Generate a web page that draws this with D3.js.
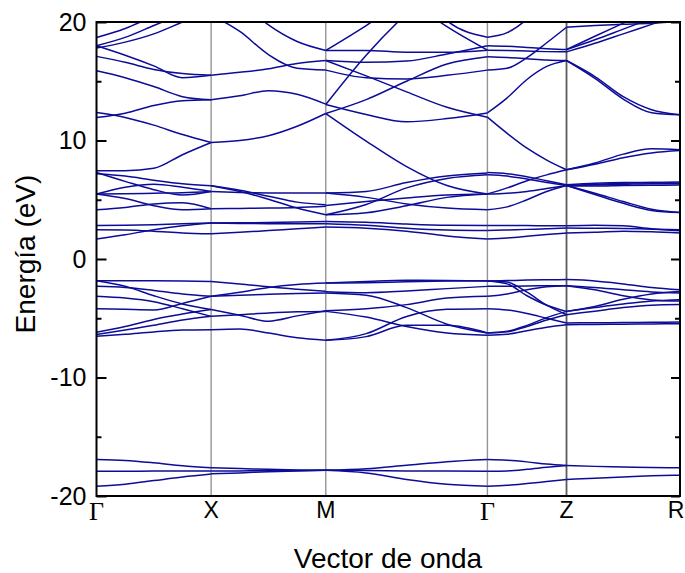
<!DOCTYPE html>
<html>
<head>
<meta charset="utf-8">
<script src="https://cdn.jsdelivr.net/npm/d3@7"></script>
<style>
  html, body { margin: 0; padding: 0; background: #fff; }
  svg { display: block; }
  text { font-family: "Liberation Sans", Arial, Helvetica, sans-serif; fill: #000; }
</style>
</head>
<body>
<svg id="chart" width="685" height="573"></svg>
<script>
// ---------------- DATA ----------------
const kLabels = ["Γ", "X", "M", "Γ", "Z", "R"];
const kNodes  = [0, 1, 2, 3.41, 4.1, 5.09];          // path distance of high-symmetry points
const segT    = [0, 0.25, 0.5, 0.75, 1];              // fractional sample positions along each segment
const yMajorTicks = [-20, -10, 0, 10, 20];
const yMinorTicks = [-15, -5, 5, 15];
const xTitle = "Vector de onda";
const yTitle = "Energía (eV)";

// energies (eV) sampled at segT along Γ–X
const segGX = [
  [18.69, 19.45, 20.5, 21.5, 22.5],
  [18.0, 18.7, 19.7, 20.7, 21.7],
  [17.8, 18.3, 19.0, 20.0, 21.0],
  [18.0, 17.2, 16.3, 15.3, 15.5],
  [17.1, 16.6, 16.0, 15.65, 15.5],
  [15.88, 15.3, 14.55, 13.7, 13.43],
  [12.36, 11.95, 11.3, 10.5, 9.83],
  [11.94, 12.3, 12.95, 13.35, 13.43],
  [7.45, 7.45, 7.65, 8.8, 9.83],
  [7.19, 7.0, 6.65, 6.35, 6.18],
  [7.3, 6.55, 5.85, 5.4, 5.7],
  [5.48, 6.05, 6.3, 6.05, 5.7],
  [5.48, 5.5, 5.55, 5.6, 5.7],
  [5.48, 5.1, 4.5, 4.15, 4.24],
  [4.16, 4.35, 4.65, 4.75, 4.24],
  [2.83, 2.85, 2.9, 2.98, 3.03],
  [2.47, 2.45, 2.35, 2.2, 2.13],
  [1.69, 2.05, 2.47, 2.8, 3.03],
  [-1.83, -1.83, -1.84, -1.86, -1.89],
  [-1.83, -2.3, -3.1, -3.8, -4.27],
  [-2.31, -2.4, -2.65, -2.95, -3.15],
  [-3.15, -3.3, -3.6, -4.2, -4.84],
  [-4.19, -4.25, -4.3, -3.75, -3.15],
  [-6.19, -5.7, -5.1, -4.65, -4.27],
  [-6.38, -6.0, -5.6, -5.15, -4.84],
  [-6.52, -6.35, -6.15, -6.0, -5.96],
  [-16.92, -17.0, -17.2, -17.45, -17.62],
  [-17.91, -17.91, -17.9, -17.9, -17.88],
  [-19.17, -19.0, -18.7, -18.4, -18.15]
];

// X–M
const segXM = [
  [15.5, 15.75, 16.05, 16.5, 16.75],
  [13.43, 13.77, 14.2, 13.9, 13.07],
  [9.83, 10.0, 10.4, 11.2, 12.28],
  [20.6, 19.2, 17.25, 16.1, 15.94],
  [23.0, 21.8, 19.75, 18.35, 17.6],
  [6.18, 5.8, 5.3, 4.8, 4.58],
  [6.18, 5.7, 5.05, 4.3, 3.73],
  [5.7, 5.62, 5.58, 5.56, 5.56],
  [4.24, 4.27, 4.3, 4.35, 4.45],
  [3.03, 3.05, 3.08, 3.12, 3.17],
  [3.03, 3.0, 2.98, 2.98, 2.98],
  [2.13, 2.25, 2.4, 2.55, 2.7],
  [-1.89, -2.1, -2.35, -2.55, -2.73],
  [-3.15, -2.8, -2.4, -2.15, -2.03],
  [-3.15, -3.05, -2.98, -2.92, -2.87],
  [-4.84, -4.7, -4.55, -4.45, -4.42],
  [-4.27, -4.75, -5.25, -4.8, -4.36],
  [-5.96, -5.9, -6.25, -6.65, -6.86],
  [-17.62, -17.68, -17.75, -17.8, -17.83],
  [-17.9, -17.88, -17.86, -17.84, -17.83],
  [-18.13, -18.05, -17.95, -17.88, -17.83]
];

// M–Γ
const segMG = [
  [17.6, 19.7, 22.0, 24.0, 26.0],
  [13.04, 17.2, 20.7, 23.5, 26.0],
  [17.6, 17.6, 17.45, 17.45, 17.62],
  [16.75, 16.6, 16.7, 17.3, 18.0],
  [16.75, 15.45, 14.1, 12.8, 11.97],
  [15.94, 15.3, 15.2, 15.5, 15.94],
  [12.28, 13.45, 15.0, 16.45, 17.06],
  [13.04, 12.2, 11.58, 11.85, 12.33],
  [12.28, 9.95, 7.8, 6.2, 5.48],
  [26.0, 24.0, 22.0, 19.6, 17.62],
  [35.0, 31.0, 24.3, 20.1, 18.72],
  [5.56, 5.7, 6.45, 7.0, 7.25],
  [5.56, 5.2, 4.65, 4.3, 4.16],
  [4.52, 4.85, 5.15, 5.4, 5.48],
  [3.73, 4.6, 6.0, 6.8, 7.11],
  [3.73, 3.9, 4.5, 5.2, 5.48],
  [3.17, 3.1, 2.95, 2.85, 2.83],
  [2.98, 2.85, 2.6, 2.45, 2.41],
  [2.7, 2.6, 2.35, 1.95, 1.69],
  [-2.03, -1.9, -1.8, -1.82, -1.85],
  [-2.03, -2.0, -1.92, -1.86, -1.83],
  [-2.76, -2.85, -2.7, -2.5, -2.31],
  [-2.87, -3.05, -4.1, -5.5, -6.24],
  [-4.36, -4.2, -3.85, -3.3, -3.15],
  [-4.42, -4.9, -5.7, -6.25, -6.43],
  [-6.86, -6.55, -5.6, -5.6, -6.24],
  [-6.86, -6.3, -4.85, -4.25, -4.19],
  [-17.83, -17.7, -17.4, -17.1, -16.92],
  [-17.83, -17.85, -17.88, -17.9, -17.91],
  [-17.83, -18.05, -18.6, -19.0, -19.17]
];

// Γ–Z
const segGZ = [
  [18.72, 19.1, 20.25, 22.1, 24.5],
  [18.0, 17.95, 17.85, 17.75, 17.67],
  [17.62, 17.6, 17.55, 17.5, 17.48],
  [17.06, 17.0, 16.9, 16.8, 16.75],
  [15.94, 16.1, 17.0, 18.25, 19.56],
  [12.33, 13.6, 15.15, 16.25, 16.75],
  [11.97, 10.6, 9.35, 8.35, 7.53],
  [7.3, 7.2, 6.95, 6.6, 6.27],
  [7.11, 7.0, 6.75, 6.45, 6.2],
  [5.48, 6.0, 6.6, 7.1, 7.53],
  [5.48, 5.55, 5.7, 5.95, 6.2],
  [4.16, 4.4, 5.0, 5.7, 6.2],
  [2.83, 2.83, 2.82, 2.81, 2.8],
  [2.41, 2.45, 2.5, 2.55, 2.61],
  [1.69, 1.78, 1.92, 2.07, 2.19],
  [-1.85, -1.82, -1.78, -1.75, -1.74],
  [-1.85, -2.1, -3.1, -3.9, -4.42],
  [-1.85, -1.95, -2.8, -3.9, -4.7],
  [-2.31, -2.3, -2.28, -2.26, -2.25],
  [-3.15, -2.95, -2.6, -2.35, -2.25],
  [-4.19, -4.3, -4.6, -5.0, -5.4],
  [-6.24, -6.15, -5.7, -5.15, -4.7],
  [-6.24, -6.1, -5.6, -4.95, -4.42],
  [-6.43, -6.35, -6.05, -5.75, -5.54],
  [-16.92, -16.98, -17.12, -17.3, -17.43],
  [-17.91, -17.88, -17.75, -17.58, -17.43],
  [-19.17, -19.1, -18.95, -18.78, -18.61]
];

// Z–R
const segZR = [
  [19.56, 19.7, 19.8, 19.9, 20.05],
  [17.67, 18.5, 19.4, 20.3, 21.2],
  [17.48, 18.2, 19.0, 19.8, 20.6],
  [17.67, 18.8, 19.9, 21.0, 22.0],
  [16.75, 15.4, 13.7, 12.6, 12.17],
  [16.75, 15.25, 13.5, 12.35, 12.17],
  [7.53, 8.0, 8.55, 8.95, 9.15],
  [7.53, 8.1, 8.85, 9.3, 9.22],
  [6.27, 6.4, 6.45, 6.45, 6.4],
  [6.2, 6.3, 6.4, 6.45, 6.5],
  [6.2, 6.25, 6.3, 6.35, 6.35],
  [6.15, 6.15, 6.2, 6.22, 6.25],
  [6.2, 5.55, 4.85, 4.2, 3.93],
  [6.2, 5.45, 4.7, 4.1, 3.93],
  [2.8, 2.85, 2.8, 2.55, 2.38],
  [2.61, 2.6, 2.58, 2.52, 2.47],
  [2.19, 2.25, 2.35, 2.3, 2.2],
  [-1.74, -1.85, -2.1, -2.4, -2.59],
  [-2.25, -2.4, -2.6, -2.78, -2.87],
  [-2.25, -2.6, -3.1, -3.45, -3.55],
  [-4.42, -4.1, -3.8, -3.55, -3.43],
  [-4.7, -4.4, -4.1, -3.9, -3.85],
  [-4.42, -4.0, -3.4, -2.95, -2.75],
  [-5.4, -5.38, -5.36, -5.34, -5.32],
  [-5.54, -5.52, -5.5, -5.48, -5.46],
  [-17.43, -17.5, -17.55, -17.6, -17.62],
  [-18.61, -18.5, -18.4, -18.3, -18.24]
];

const segments = [segGX, segXM, segMG, segGZ, segZR];

// ---------------- DRAW ----------------
const svg = d3.select("#chart");
const plot = { left: 96.5, right: 680, top: 22, bottom: 496 };

const x = d3.scaleLinear().domain([kNodes[0], kNodes[kNodes.length - 1]]).range([plot.left, plot.right]);
const y = d3.scaleLinear().domain([-20, 20]).range([plot.bottom, plot.top]);

svg.append("defs").append("clipPath").attr("id", "clip")
  .append("rect")
  .attr("x", plot.left).attr("y", plot.top)
  .attr("width", plot.right - plot.left).attr("height", plot.bottom - plot.top);

// high-symmetry vertical lines
svg.append("g").selectAll("line")
  .data(kNodes.slice(1, -1))
  .join("line")
  .attr("x1", d => x(d)).attr("x2", d => x(d))
  .attr("y1", plot.top).attr("y2", plot.bottom)
  .attr("stroke", (d, i) => i === 3 ? "#5a5a5a" : "#959595")
  .attr("stroke-width", (d, i) => i === 3 ? 1.8 : 1.4);

// bands
const bandsG = svg.append("g").attr("clip-path", "url(#clip)");
segments.forEach((seg, si) => {
  const k0 = kNodes[si], k1 = kNodes[si + 1];
  const line = d3.line()
    .x((d, j) => x(k0 + segT[j] * (k1 - k0)))
    .y(d => y(d))
    .curve(d3.curveMonotoneX);
  bandsG.append("g").selectAll("path")
    .data(seg)
    .join("path")
    .attr("d", line)
    .attr("fill", "none")
    .attr("stroke", "#0c0c98")
    .attr("stroke-width", 1.5);
});

// left axis (major, inward ticks)
const leftMajor = svg.append("g")
  .attr("transform", `translate(${plot.left},0)`)
  .call(d3.axisLeft(y).tickValues(yMajorTicks).tickSize(-10).tickPadding(10).tickFormat(d3.format("d")));
leftMajor.select(".domain").remove();
leftMajor.selectAll(".tick line").attr("stroke", "#000").attr("stroke-width", 2);
leftMajor.selectAll(".tick text")
  .attr("font-size", 25).attr("font-family", "Liberation Sans, Arial, sans-serif")
  .text(d => d < 0 ? "-" + Math.abs(d) : d);

const leftMinor = svg.append("g")
  .attr("transform", `translate(${plot.left},0)`)
  .call(d3.axisLeft(y).tickValues(yMinorTicks).tickSize(-5).tickFormat(""));
leftMinor.select(".domain").remove();
leftMinor.selectAll(".tick line").attr("stroke", "#000").attr("stroke-width", 2);

// right axis (inward ticks, no labels)
const rightMajor = svg.append("g")
  .attr("transform", `translate(${plot.right},0)`)
  .call(d3.axisRight(y).tickValues(yMajorTicks).tickSize(-9).tickFormat(""));
rightMajor.select(".domain").remove();
rightMajor.selectAll(".tick line").attr("stroke", "#000").attr("stroke-width", 2);
const rightMinor = svg.append("g")
  .attr("transform", `translate(${plot.right},0)`)
  .call(d3.axisRight(y).tickValues(yMinorTicks).tickSize(-5).tickFormat(""));
rightMinor.select(".domain").remove();
rightMinor.selectAll(".tick line").attr("stroke", "#000").attr("stroke-width", 2);

// frame
svg.append("rect")
  .attr("x", plot.left).attr("y", plot.top)
  .attr("width", plot.right - plot.left).attr("height", plot.bottom - plot.top)
  .attr("fill", "none").attr("stroke", "#000").attr("stroke-width", 2);

// k-point labels (last one kept inside the window)
const lastIdx = kLabels.length - 1;
svg.append("g").selectAll("text")
  .data(kLabels.map((l, i) => ({ l, k: kNodes[i], i })))
  .join("text")
  .attr("x", d => x(d.k))
  .attr("dx", d => d.i === lastIdx ? -4 : 0)
  .attr("y", d => d.l === "Γ" ? 520 : 518)
  .attr("text-anchor", "middle")
  .attr("font-size", d => d.l === "Γ" ? 26 : 23)
  .style("font-family", d => d.l === "Γ" ? "'Liberation Serif', 'Times New Roman', serif" : null)
  .text(d => d.l);

// axis titles
svg.append("text")
  .attr("x", 388).attr("y", 568)
  .attr("text-anchor", "middle")
  .attr("font-size", 28)
  .text(xTitle);

svg.append("text")
  .attr("transform", "translate(35,254) rotate(-90)")
  .attr("text-anchor", "middle")
  .attr("font-size", 28)
  .text(yTitle);
</script>
</body>
</html>
